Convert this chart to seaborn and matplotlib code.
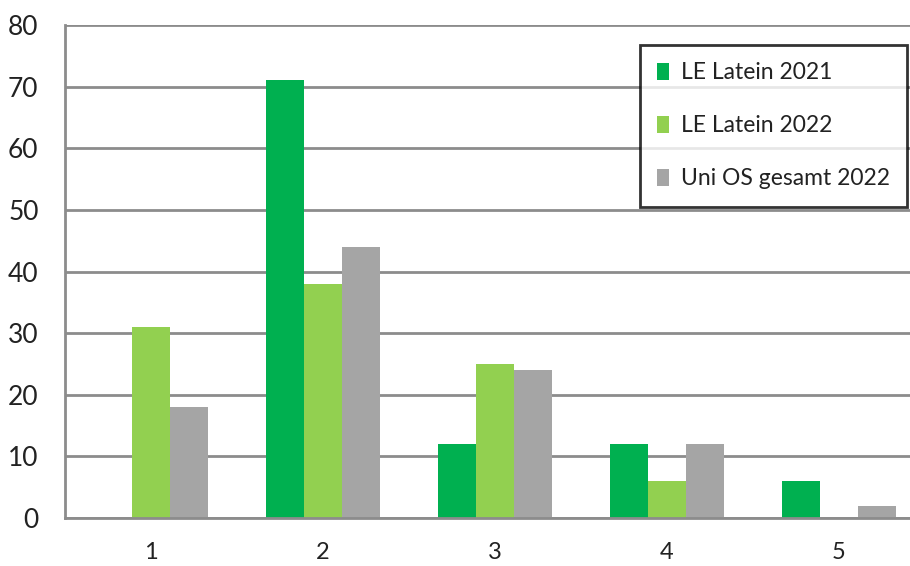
import matplotlib
matplotlib.use("Agg")
import matplotlib.pyplot as plt
import seaborn as sns
import pandas as pd

categories = ["1", "2", "3", "4", "5"]
series = ["LE Latein 2021", "LE Latein 2022", "Uni OS gesamt 2022"]
le_2021 = [0, 71, 12, 12, 6]
le_2022 = [31, 38, 25, 6, 0]
uni_2022 = [18, 44, 24, 12, 2]
colors = ["#00B050", "#92D050", "#A5A5A5"]

rows = []
for s, vals in zip(series, [le_2021, le_2022, uni_2022]):
    for c, v in zip(categories, vals):
        rows.append({"cat": c, "series": s, "value": v})
df = pd.DataFrame(rows)

sns.set_style("white")
plt.rcParams["font.family"] = ["Lato", "DejaVu Sans"]

fig = plt.figure(figsize=(9.10, 5.66), dpi=100)
ax = fig.add_axes([65/910, 48/566, 1 - 65/910, (518-25)/566])

sns.barplot(data=df, x="cat", y="value", hue="series", order=categories,
            hue_order=series, palette=colors, width=0.66, gap=0,
            saturation=1, edgecolor="none", ax=ax, zorder=3)

grid_c = "#8C8C8C"
ax.set_yticks(range(0, 81, 10))
ax.yaxis.grid(True, color=grid_c, linewidth=2, zorder=0)
ax.set_axisbelow(True)
for s in ["top", "right"]:
    ax.spines[s].set_visible(False)
for s in ["left", "bottom"]:
    ax.spines[s].set_color(grid_c)
    ax.spines[s].set_linewidth(2)
    ax.spines[s].set_zorder(4)

ax.set_xlabel("")
ax.set_ylabel("")
ax.set_xticks(range(5))
ax.set_xticklabels(categories)
ax.set_xticks([i - 0.5 for i in range(6)], minor=True)
ax.set_ylim(0, 80)
ax.set_xlim(-0.5, -0.5 + 845/172)
ax.tick_params(axis="x", which="major", length=0, pad=17, labelsize=17, labelcolor="#222222")
ax.tick_params(axis="x", which="minor", length=6, width=2, color=grid_c, direction="out")
ax.tick_params(axis="y", length=6, width=2, color=grid_c, direction="out", pad=13,
               labelsize=19, labelcolor="#222222")

leg = ax.legend(loc="upper right", frameon=True, fancybox=False, fontsize=16.5,
                handlelength=0.55, handleheight=0.75, handletextpad=0.5,
                labelspacing=1.4, borderpad=0.75, borderaxespad=0)
leg.get_frame().set_edgecolor("black")
leg.get_frame().set_linewidth(2)
leg.set_bbox_to_anchor((907/910, 1 - 45/566), transform=fig.transFigure)
for t in leg.get_texts():
    t.set_color("#222222")

fig.savefig("out.png", dpi=100)
